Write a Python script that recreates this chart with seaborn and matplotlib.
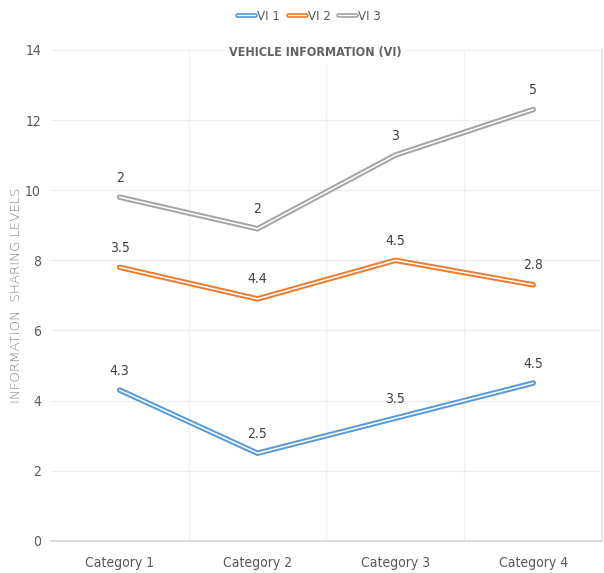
import matplotlib
matplotlib.use("Agg")
import matplotlib.pyplot as plt
import matplotlib.patheffects as pe
from matplotlib.lines import Line2D
from matplotlib.legend_handler import HandlerLine2D
import seaborn as sns
import pandas as pd
import numpy as np

categories = ["Category 1", "Category 2", "Category 3", "Category 4"]
vi1 = [4.3, 2.5, 3.5, 4.5]
vi2 = [3.5, 4.4, 4.5, 2.8]
vi3 = [2, 2, 3, 5]
series_names = ["VI 1", "VI 2", "VI 3"]
colors = ["#5B9BD5", "#ED7D31", "#A5A5A5"]
y_ticks = [0, 2, 4, 6, 8, 10, 12, 14]

sns.set_theme(style="white")
plt.rcParams["font.family"] = ["DejaVu Sans"]
plt.rcParams["font.stretch"] = "condensed"

# stacked line chart: each series sits on top of the previous ones
raw = np.array([vi1, vi2, vi3])
stacked = np.cumsum(raw, axis=0)
rows = []
for name, r, s in zip(series_names, raw, stacked):
    for c, v, t in zip(categories, r, s):
        rows.append({"category": c, "series": name, "value": v, "level": t})
df = pd.DataFrame(rows)
df["x"] = df["category"].map({c: i for i, c in enumerate(categories)})

fig = plt.figure(figsize=(6.04, 5.73), dpi=100)
ax = fig.add_axes([0.084, 0.056, 0.913, 0.857])

sns.lineplot(data=df, x="x", y="level", hue="series", palette=colors,
             hue_order=series_names, ax=ax, legend=False, linewidth=4.0,
             sort=False, estimator=None)
# double-line stroke: coloured outer band with a thin white core
for line, col in zip(ax.get_lines(), colors):
    line.set_path_effects([pe.Stroke(linewidth=4.0, foreground=col),
                           pe.Stroke(linewidth=1.1, foreground="white")])
    line.set_solid_joinstyle("miter")

for _, r in df.iterrows():
    lab = f"{r['value']:g}"
    ax.annotate(lab, (r["x"], r["level"]), xytext=(0, 9), textcoords="offset points",
                ha="center", va="bottom", fontsize=10, color="#404040")

ax.set_xlim(-0.5, 3.5)
ax.set_ylim(0, 14)
ax.set_yticks(y_ticks)
ax.set_xticks(range(len(categories)))
ax.set_xticklabels(categories)
ax.set_xticks([0.5, 1.5, 2.5, 3.5], minor=True)
ax.grid(axis="y", which="major", color="#EDEDED", linewidth=0.9)
ax.grid(axis="x", which="minor", color="#F2F2F2", linewidth=0.9)
ax.grid(axis="x", which="major", visible=False)
ax.set_axisbelow(True)
for side in ["top", "left"]:
    ax.spines[side].set_visible(False)
ax.spines["right"].set_color("#E6E6E6")
ax.spines["bottom"].set_color("#D9D9D9")
ax.tick_params(axis="both", length=0, labelsize=10, labelcolor="#595959")
ax.tick_params(axis="x", pad=11)
ax.tick_params(axis="y", pad=7)
ax.set_xlabel("")
ax.set_ylabel("INFORMATION  SHARING LEVELS", fontsize=9.5, color="#7F7F7F",
              fontstretch="normal", labelpad=2, fontweight="light")

ax.text(0.48, 0.995, "VEHICLE INFORMATION (VI)", transform=ax.transAxes,
        ha="center", va="center", fontsize=9, fontweight="bold", color="#636363",
        bbox=dict(facecolor="white", edgecolor="none", pad=3), zorder=5)


class DoubleLineHandler(HandlerLine2D):
    def create_artists(self, legend, orig_handle, xdescent, ydescent, width, height, fontsize, trans):
        arts = super().create_artists(legend, orig_handle, xdescent, ydescent, width, height, fontsize, trans)
        for a in arts:
            if isinstance(a, Line2D):
                a.set_path_effects([pe.Stroke(linewidth=3.4, foreground=orig_handle.get_color()),
                                    pe.Stroke(linewidth=0.9, foreground="white")])
        return arts


handles = [Line2D([], [], color=c, linewidth=3.4) for c in colors]
fig.legend(handles, series_names, loc="center", bbox_to_anchor=(0.512, 0.972), ncol=3,
           frameon=False, fontsize=9.5, handlelength=1.35, handletextpad=0.15, columnspacing=0.6,
           labelcolor="#595959", handler_map={Line2D: DoubleLineHandler()})

fig.savefig("out.png", dpi=100, facecolor="white")
